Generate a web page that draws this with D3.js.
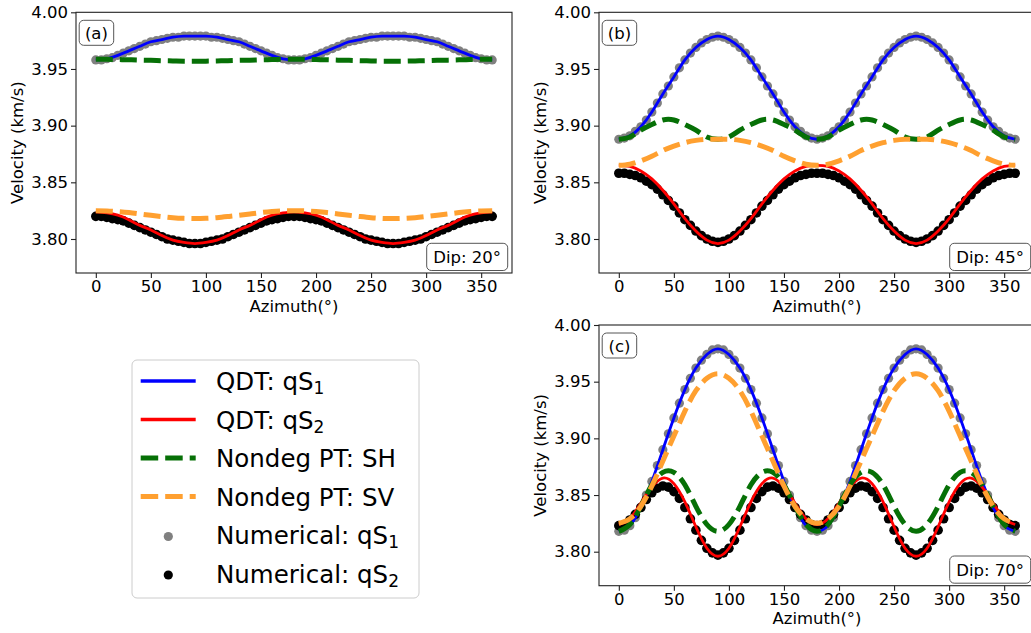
<!DOCTYPE html>
<html><head><meta charset="utf-8">
<script src="https://cdn.jsdelivr.net/npm/d3@7/dist/d3.min.js"></script>
<style>body{margin:0;background:#fff;} svg{display:block;font-family:"DejaVu Sans",sans-serif;}</style>
</head><body><svg id="chart" width="1031" height="633"></svg>
<script>
// ---- azimuth grids (degrees) ----
const az5 = [0,5,10,15,20,25,30,35,40,45,50,55,60,65,70,75,80,85,90,95,100,105,110,115,120,125,130,135,140,145,150,155,160,165,170,175,180,185,190,195,200,205,210,215,220,225,230,235,240,245,250,255,260,265,270,275,280,285,290,295,300,305,310,315,320,325,330,335,340,345,350,355,360];
const az10 = [0,10,20,30,40,50,60,70,80,90,100,110,120,130,140,150,160,170,180,190,200,210,220,230,240,250,260,270,280,290,300,310,320,330,340,350,360];
const xTicks = [0,50,100,150,200,250,300,350];
const yTicks = [3.80,3.85,3.90,3.95,4.00];

// ---- Panel (a) Dip 20 ----
const a_qdt1 = [3.958,3.959,3.962,3.966,3.970,3.974,3.976,3.978,3.979,3.979,3.979,3.978,3.976,3.974,3.970,3.966,3.962,3.959,3.958,3.959,3.962,3.966,3.970,3.974,3.976,3.978,3.979,3.979,3.979,3.978,3.976,3.974,3.970,3.966,3.962,3.959,3.958];
const a_qdt2 = [3.824,3.823,3.821,3.817,3.812,3.808,3.803,3.799,3.797,3.796,3.797,3.799,3.803,3.808,3.812,3.817,3.821,3.823,3.824,3.823,3.821,3.817,3.812,3.808,3.803,3.799,3.797,3.796,3.797,3.799,3.803,3.808,3.812,3.817,3.821,3.823,3.824];
const a_sh = [3.9585,3.9585,3.9583,3.9581,3.9578,3.9576,3.9573,3.9571,3.9569,3.9569,3.9569,3.9571,3.9573,3.9576,3.9578,3.9581,3.9583,3.9585,3.9585,3.9585,3.9583,3.9581,3.9578,3.9576,3.9573,3.9571,3.9569,3.9569,3.9569,3.9571,3.9573,3.9576,3.9578,3.9581,3.9583,3.9585,3.9585];
const a_sv = [3.8250,3.8248,3.8242,3.8233,3.8221,3.8209,3.8198,3.8188,3.8182,3.8180,3.8182,3.8188,3.8198,3.8209,3.8221,3.8233,3.8242,3.8248,3.8250,3.8248,3.8242,3.8233,3.8221,3.8209,3.8198,3.8188,3.8182,3.8180,3.8182,3.8188,3.8198,3.8209,3.8221,3.8233,3.8242,3.8248,3.8250];
const a_num1 = [3.958,3.958,3.959,3.960,3.962,3.964,3.966,3.968,3.970,3.972,3.974,3.975,3.976,3.977,3.978,3.978,3.979,3.979,3.979,
3.979,3.979,3.978,3.978,3.977,3.976,3.975,3.974,3.972,3.970,3.968,3.966,3.964,3.962,3.960,3.959,3.958,3.958,
3.958,3.959,3.960,3.962,3.964,3.966,3.968,3.970,3.972,3.974,3.975,3.976,3.977,3.978,3.978,3.979,3.979,3.979,
3.979,3.979,3.978,3.978,3.977,3.976,3.975,3.974,3.972,3.970,3.968,3.966,3.964,3.962,3.960,3.959,3.958,3.958];
const a_num2 = [3.820,3.820,3.819,3.818,3.817,3.816,3.814,3.812,3.810,3.808,3.806,3.804,3.802,3.800,3.799,3.798,3.797,3.796,3.796,
3.796,3.797,3.798,3.799,3.800,3.802,3.804,3.806,3.808,3.810,3.812,3.814,3.816,3.817,3.818,3.819,3.820,3.820,
3.820,3.819,3.818,3.817,3.816,3.814,3.812,3.810,3.808,3.806,3.804,3.802,3.800,3.799,3.798,3.797,3.796,3.796,
3.796,3.797,3.798,3.799,3.800,3.802,3.804,3.806,3.808,3.810,3.812,3.814,3.816,3.817,3.818,3.819,3.820,3.820];

// ---- Panel (b) Dip 45 ----
const b_qdt1 = [3.888,3.891,3.899,3.912,3.928,3.943,3.958,3.969,3.976,3.979,3.976,3.969,3.958,3.943,3.928,3.912,3.899,3.891,3.888,3.891,3.899,3.912,3.928,3.943,3.958,3.969,3.976,3.979,3.976,3.969,3.958,3.943,3.928,3.912,3.899,3.891,3.888];
const b_qdt2 = [3.865,3.864,3.860,3.853,3.843,3.831,3.818,3.807,3.799,3.796,3.799,3.807,3.818,3.831,3.843,3.853,3.860,3.864,3.865,3.864,3.860,3.853,3.843,3.831,3.818,3.807,3.799,3.796,3.799,3.807,3.818,3.831,3.843,3.853,3.860,3.864,3.865];
const b_sh = [3.888,3.890,3.896,3.901,3.905,3.905,3.901,3.896,3.890,3.888,3.890,3.896,3.901,3.905,3.905,3.901,3.896,3.890,3.888,3.890,3.896,3.901,3.905,3.905,3.901,3.896,3.890,3.888,3.890,3.896,3.901,3.905,3.905,3.901,3.896,3.890,3.888];
const b_sv = [3.865,3.866,3.869,3.873,3.878,3.882,3.885,3.887,3.888,3.888,3.888,3.887,3.885,3.882,3.878,3.873,3.869,3.866,3.865,3.866,3.869,3.873,3.878,3.882,3.885,3.887,3.888,3.888,3.888,3.887,3.885,3.882,3.878,3.873,3.869,3.866,3.865];
const b_num1 = [3.888,3.889,3.891,3.895,3.899,3.905,3.912,3.920,3.928,3.935,3.943,3.951,3.958,3.964,3.969,3.973,3.976,3.978,3.979,
3.978,3.976,3.973,3.969,3.964,3.958,3.951,3.943,3.935,3.928,3.920,3.912,3.905,3.899,3.895,3.891,3.889,3.888,
3.889,3.891,3.895,3.899,3.905,3.912,3.920,3.928,3.935,3.943,3.951,3.958,3.964,3.969,3.973,3.976,3.978,3.979,
3.978,3.976,3.973,3.969,3.964,3.958,3.951,3.943,3.935,3.928,3.920,3.912,3.905,3.899,3.895,3.891,3.889,3.888];
const b_num2 = [3.858,3.858,3.857,3.856,3.854,3.851,3.848,3.844,3.839,3.834,3.829,3.823,3.817,3.812,3.807,3.803,3.800,3.798,3.797,
3.798,3.800,3.803,3.807,3.812,3.817,3.823,3.829,3.834,3.839,3.844,3.848,3.851,3.854,3.856,3.857,3.858,3.858,
3.858,3.857,3.856,3.854,3.851,3.848,3.844,3.839,3.834,3.829,3.823,3.817,3.812,3.807,3.803,3.800,3.798,3.797,
3.798,3.800,3.803,3.807,3.812,3.817,3.823,3.829,3.834,3.839,3.844,3.848,3.851,3.854,3.856,3.857,3.858,3.858];

// ---- Panel (c) Dip 70 ----
const c_qdt1 = [3.818,3.823,3.839,3.862,3.890,3.918,3.943,3.962,3.974,3.979,3.974,3.962,3.943,3.918,3.890,3.862,3.839,3.823,3.818,3.823,3.839,3.862,3.890,3.918,3.943,3.962,3.974,3.979,3.974,3.962,3.943,3.918,3.890,3.862,3.839,3.823,3.818];
const c_qdt2 = [3.824,3.829,3.843,3.857,3.865,3.860,3.844,3.822,3.803,3.796,3.803,3.822,3.844,3.860,3.865,3.857,3.843,3.829,3.824,3.829,3.843,3.857,3.865,3.860,3.844,3.822,3.803,3.796,3.803,3.822,3.844,3.860,3.865,3.857,3.843,3.829,3.824];
const c_sh = [3.818,3.824,3.840,3.859,3.870,3.870,3.859,3.840,3.824,3.818,3.824,3.840,3.859,3.870,3.870,3.859,3.840,3.824,3.818,3.824,3.840,3.859,3.870,3.870,3.859,3.840,3.824,3.818,3.824,3.840,3.859,3.870,3.870,3.859,3.840,3.824,3.818];
const c_sv = [3.825,3.829,3.840,3.858,3.880,3.902,3.924,3.942,3.953,3.957,3.953,3.942,3.924,3.902,3.880,3.858,3.840,3.829,3.825,3.829,3.840,3.858,3.880,3.902,3.924,3.942,3.953,3.957,3.953,3.942,3.924,3.902,3.880,3.858,3.840,3.829,3.825];
const c_num1 = [3.818,3.819,3.823,3.830,3.839,3.850,3.862,3.876,3.890,3.904,3.918,3.931,3.943,3.953,3.962,3.969,3.974,3.978,3.979,
3.978,3.974,3.969,3.962,3.953,3.943,3.931,3.918,3.904,3.890,3.876,3.862,3.850,3.839,3.830,3.823,3.819,3.818,
3.819,3.823,3.830,3.839,3.850,3.862,3.876,3.890,3.904,3.918,3.931,3.943,3.953,3.962,3.969,3.974,3.978,3.979,
3.978,3.974,3.969,3.962,3.953,3.943,3.931,3.918,3.904,3.890,3.876,3.862,3.850,3.839,3.830,3.823,3.819,3.818];
const c_num2 = [3.823,3.824,3.828,3.833,3.839,3.846,3.852,3.856,3.858,3.857,3.853,3.847,3.839,3.829,3.819,3.810,3.803,3.799,3.797,
3.799,3.803,3.810,3.819,3.829,3.839,3.847,3.853,3.857,3.858,3.856,3.852,3.846,3.839,3.833,3.828,3.824,3.823,
3.824,3.828,3.833,3.839,3.846,3.852,3.856,3.858,3.857,3.853,3.847,3.839,3.829,3.819,3.810,3.803,3.799,3.797,
3.799,3.803,3.810,3.819,3.829,3.839,3.847,3.853,3.857,3.858,3.856,3.852,3.846,3.839,3.833,3.828,3.824,3.823];

const panelTags = ["(a)","(b)","(c)"];
const dipLabels = ["Dip: 20°","Dip: 45°","Dip: 70°"];
const legendMain = ["QDT: qS","QDT: qS","Nondeg PT: SH","Nondeg PT: SV","Numerical: qS","Numerical: qS"];
const legendSub = ["1","2","","","1","2"];

// ---- styles ----
const C = {qs1:"#0000ff", qs2:"#ff0000", sh:"#067006", sv:"#ffa030", n1:"#808080", n2:"#000000"};
const FONT = 16.5;

const panels = [
  {tag:panelTags[0], dip:dipLabels[0], x0:76, x1:512, y0:12.3, y1:273, q1:a_qdt1, q2:a_qdt2, sh:a_sh, sv:a_sv, n1:a_num1, n2:a_num2},
  {tag:panelTags[1], dip:dipLabels[1], x0:599, x1:1035, y0:12.3, y1:273, q1:b_qdt1, q2:b_qdt2, sh:b_sh, sv:b_sv, n1:b_num1, n2:b_num2},
  {tag:panelTags[2], dip:dipLabels[2], x0:599, x1:1035, y0:325, y1:585.7, q1:c_qdt1, q2:c_qdt2, sh:c_sh, sv:c_sv, n1:c_num1, n2:c_num2}
];

const svg = d3.select("#chart");

panels.forEach(p => {
  const x = d3.scaleLinear().domain([-18, 378]).range([p.x0, p.x1]);
  const y = d3.scaleLinear().domain([3.77, 4.00]).range([p.y1, p.y0]);
  const g = svg.append("g");

  // numerical dots (under lines)
  g.append("g").selectAll("circle").data(p.n1).join("circle")
    .attr("cx", (d,i) => x(az5[i])).attr("cy", d => y(d)).attr("r", 4.6).attr("fill", C.n1);
  g.append("g").selectAll("circle").data(p.n2).join("circle")
    .attr("cx", (d,i) => x(az5[i])).attr("cy", d => y(d)).attr("r", 4.8).attr("fill", C.n2);

  const line = d3.line().x((d,i) => x(az10[i])).y(d => y(d)).curve(d3.curveNatural);
  const addLine = (arr, col, w, dash) => {
    const pth = g.append("path").attr("d", line(arr)).attr("fill", "none")
      .attr("stroke", col).attr("stroke-width", w).attr("stroke-linejoin","round");
    if (dash) pth.attr("stroke-dasharray", dash);
  };
  addLine(p.q1, C.qs1, 2.8);
  addLine(p.q2, C.qs2, 2.8);
  addLine(p.sh, C.sh, 5, "17,7");
  addLine(p.sv, C.sv, 5, "17,7");

  // frame
  g.append("rect").attr("x", p.x0).attr("y", p.y0).attr("width", p.x1 - p.x0).attr("height", p.y1 - p.y0)
    .attr("fill", "none").attr("stroke", "#222").attr("stroke-width", 1.1);

  // axes
  const xa = g.append("g").attr("transform", `translate(0,${p.y1})`)
    .call(d3.axisBottom(x).tickValues(xTicks).tickSize(5).tickPadding(2.5).tickFormat(d3.format("d")));
  const ya = g.append("g").attr("transform", `translate(${p.x0},0)`)
    .call(d3.axisLeft(y).tickValues(yTicks).tickSize(5).tickPadding(3).tickFormat(d3.format(".2f")));
  [xa, ya].forEach(a => {
    a.select(".domain").remove();
    a.selectAll("line").attr("stroke", "#222").attr("stroke-width", 1.1);
    a.selectAll("text").attr("font-size", FONT).attr("font-family", '"DejaVu Sans", sans-serif').attr("fill", "#000");
  });

  // axis titles
  g.append("text").attr("x", (p.x0 + p.x1) / 2).attr("y", p.y1 + 38.5).attr("text-anchor", "middle")
    .attr("font-size", FONT).text("Azimuth(°)");
  g.append("text").attr("transform", `translate(${p.x0 - 53},${(p.y0 + p.y1) / 2}) rotate(-90)`)
    .attr("text-anchor", "middle").attr("font-size", FONT).text("Velocity (km/s)");

  // panel tag box
  g.append("rect").attr("x", p.x0 + 3.2).attr("y", p.y0 + 8).attr("width", 34.5).attr("height", 25).attr("rx", 4.5)
    .attr("fill", "#fff").attr("stroke", "#555").attr("stroke-width", 1);
  g.append("text").attr("x", p.x0 + 3.2 + 17.25).attr("y", p.y0 + 8 + 12.5 + 6).attr("text-anchor", "middle")
    .attr("font-size", FONT).text(p.tag);

  // dip box
  g.append("rect").attr("x", p.x1 - 85.3).attr("y", p.y1 - 29.7).attr("width", 81).attr("height", 27.2).attr("rx", 4.5)
    .attr("fill", "#fff").attr("stroke", "#555").attr("stroke-width", 1);
  g.append("text").attr("x", p.x1 - 85.3 + 40.5).attr("y", p.y1 - 29.7 + 13.6 + 6).attr("text-anchor", "middle")
    .attr("font-size", FONT).text(p.dip);
});

// ---- legend ----
const lg = svg.append("g");
lg.append("rect").attr("x", 132).attr("y", 360).attr("width", 287).attr("height", 238).attr("rx", 5)
  .attr("fill", "#fff").attr("stroke", "#ccc").attr("stroke-width", 1);
const legendStyle = [
  {type:"line", col:C.qs1, w:3.5},
  {type:"line", col:C.qs2, w:3.5},
  {type:"line", col:C.sh, w:5, dash:"17.5,7"},
  {type:"line", col:C.sv, w:5, dash:"17.5,7"},
  {type:"dot", col:C.n1},
  {type:"dot", col:C.n2}
];
legendMain.forEach((lbl, i) => {
  const base = 390 + i * 38.5;
  const my = base - 9;
  const st = legendStyle[i];
  if (st.type === "line") {
    const l = lg.append("line").attr("x1", 140.7).attr("x2", 195.7).attr("y1", my).attr("y2", my)
      .attr("stroke", st.col).attr("stroke-width", st.w);
    if (st.dash) l.attr("stroke-dasharray", st.dash);
  } else {
    lg.append("circle").attr("cx", 168.3).attr("cy", my + 1.5).attr("r", 4.6).attr("fill", st.col);
  }
  const t = lg.append("text").attr("x", 216).attr("y", base).attr("font-size", 24.5).attr("fill", "#000");
  t.append("tspan").text(lbl);
  if (legendSub[i]) t.append("tspan").attr("font-size", 17).attr("dy", 4).text(legendSub[i]);
});
</script></body></html>
